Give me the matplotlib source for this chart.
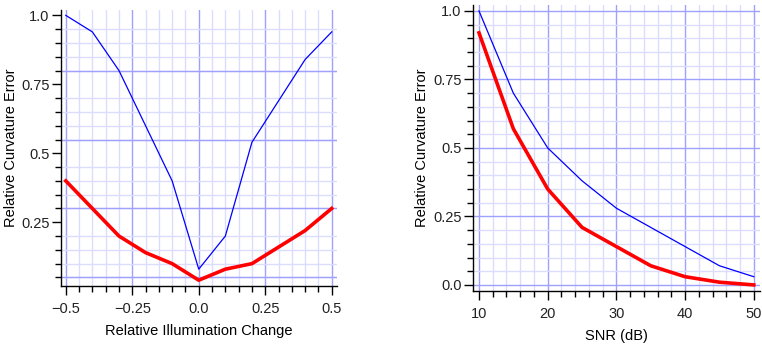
import matplotlib
matplotlib.use("Agg")
import matplotlib.pyplot as plt
import numpy as np

plt.rcParams['font.family'] = ['Liberation Sans', 'DejaVu Sans']
plt.rcParams['axes.unicode_minus'] = True

# left panel: illumination change
illum = [-0.5, -0.4, -0.3, -0.2, -0.1, 0.0, 0.1, 0.2, 0.3, 0.4, 0.5]
illum_blue = [1.0, 0.94, 0.80, 0.60, 0.40, 0.08, 0.20, 0.54, 0.69, 0.84, 0.94]
illum_red = [0.40, 0.30, 0.20, 0.14, 0.10, 0.04, 0.08, 0.10, 0.16, 0.22, 0.30]
illum_xticks = [-0.5, -0.25, 0.0, 0.25, 0.5]
illum_xlabels = ["\u22120.5", "\u22120.25", "0.0", "0.25", "0.5"]
illum_yticks = [0.25, 0.5, 0.75, 1.0]
illum_ylabels = ["0.25", "0.5", "0.75", "1.0"]
illum_ygrid = [0.05, 0.3, 0.55, 0.8]

# right panel: SNR
snr = [10, 15, 20, 25, 30, 35, 40, 45, 50]
snr_blue = [1.0, 0.70, 0.50, 0.38, 0.28, 0.21, 0.14, 0.07, 0.03]
snr_red = [0.92, 0.57, 0.35, 0.21, 0.14, 0.07, 0.03, 0.01, 0.0]
snr_xticks = [10, 20, 30, 40, 50]
snr_yticks = [0.0, 0.25, 0.5, 0.75, 1.0]
snr_ylabels = ["0.0", "0.25", "0.5", "0.75", "1.0"]

MAJ = "#a0a0ff"
MIN = "#dcdcff"

def style(ax):
    for s in ["top", "right"]:
        ax.spines[s].set_visible(False)
    for s in ["left", "bottom"]:
        ax.spines[s].set_linewidth(1.0)
    ax.tick_params(which="major", direction="out", length=6.5, width=1, labelsize=10.5,
                   labelcolor="#222222")
    ax.tick_params(which="minor", direction="out", length=4, width=1)
    ax.tick_params(axis="y", which="major", pad=1.5)
    ax.tick_params(axis="x", which="major", pad=5)
    ax.set_axisbelow(True)

fig = plt.figure(figsize=(7.62, 3.44), dpi=100)

# ---- left
ax1 = fig.add_axes([0.0797, 0.1686, 0.3626, 0.802])
ax1.set_xlim(-0.519, 0.52)
ax1.set_ylim(0.019, 1.019)
ax1.set_xticks(illum_xticks)
ax1.set_xticklabels(illum_xlabels)
ax1.set_yticks(illum_yticks)
ax1.set_yticklabels(illum_ylabels)
ax1.set_xticks(np.arange(-0.5, 0.51, 0.05), minor=True)
ax1.set_yticks(np.arange(0.05, 1.01, 0.05), minor=True)
ax1.grid(which="minor", color=MIN, lw=1.0)
ax1.grid(which="major", axis="x", color=MAJ, lw=1.0)
for g in illum_ygrid:
    ax1.axhline(g, color=MAJ, lw=1.0, zorder=0.6)
ax1.plot(illum, illum_blue, color="#0000ff", lw=0.9)
ax1.plot(illum, illum_red, color="#ff0000", lw=2.6)
style(ax1)
ax1.set_xlabel("Relative Illumination Change", fontsize=10.5, labelpad=6)
ax1.set_ylabel("Relative Curvature Error", fontsize=10.5)
ax1.yaxis.set_label_coords(-0.155, 0.5)

# ---- right
ax2 = fig.add_axes([0.6203, 0.155, 0.377, 0.83])
ax2.set_xlim(9.08, 50.9)
ax2.set_ylim(-0.021, 1.021)
ax2.set_xticks(snr_xticks)
ax2.set_yticks(snr_yticks)
ax2.set_yticklabels(snr_ylabels)
ax2.set_xticks(np.arange(10, 51, 2), minor=True)
ax2.set_yticks(np.arange(0, 1.01, 0.05), minor=True)
ax2.grid(which="minor", color=MIN, lw=1.0)
ax2.grid(which="major", color=MAJ, lw=1.0)
ax2.plot(snr, snr_blue, color="#0000ff", lw=0.9)
ax2.plot(snr, snr_red, color="#ff0000", lw=2.6)
style(ax2)
ax2.set_xlabel("SNR (dB)", fontsize=10.5, labelpad=6)
ax2.set_ylabel("Relative Curvature Error", fontsize=10.5)
ax2.yaxis.set_label_coords(-0.152, 0.5)

fig.savefig("out.png", dpi=100)
